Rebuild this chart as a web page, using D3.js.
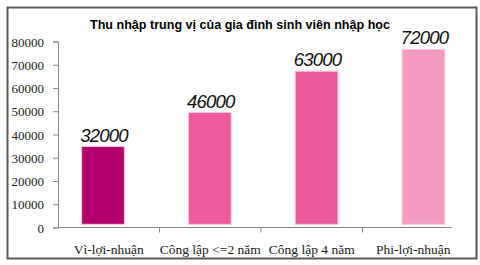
<!DOCTYPE html>
<html>
<head>
<meta charset="utf-8">
<script src="https://cdn.jsdelivr.net/npm/d3@7"></script>
<style>
  body { margin: 0; background: #fff; }
  .axis text { font-family: "Liberation Serif", "DejaVu Serif", serif; fill: #222; }
  .axis path, .axis line { stroke: #8a8a8a; }
</style>
</head>
<body>
<div id="chart"></div>
<script>
// data
let categories = ["Vì-lợi-nhuận", "Công lập <=2 năm", "Công lập 4 năm", "Phi-lợi-nhuận"];
let values = [32000, 46000, 63000, 72000];
let valueLabels = ["32000", "46000", "63000", "72000"];
let barColors = ["#b3006a", "#ef5a9f", "#ec589c", "#f39bc2"];
let yTicks = [0, 10000, 20000, 30000, 40000, 50000, 60000, 70000, 80000];
let title = "Thu nhập trung vị của gia đình sinh viên nhập học";

let width = 480, height = 265;

let svg = d3.select("#chart").append("svg")
    .attr("width", width)
    .attr("height", height);

// outer frame
svg.append("rect")
    .attr("x", 7.5).attr("y", 7.5)
    .attr("width", 469).attr("height", 251)
    .attr("fill", "#fff")
    .attr("stroke", "#5a5a5a")
    .attr("stroke-width", 2);

svg.append("text")
    .attr("x", 240).attr("y", 28.5)
    .attr("text-anchor", "middle")
    .attr("textLength", 300)
    .attr("lengthAdjust", "spacingAndGlyphs")
    .style("font-family", "'Liberation Sans', Arial, sans-serif")
    .style("font-weight", "bold")
    .style("font-size", "13px")
    .text(title);

// scales
let x = d3.scaleBand()
    .domain(categories)
    .range([58, 464]);

let y = d3.scaleLinear()
    .domain([0, 80000])
    .range([227.5, 41.5]);

// the bars in the source sit a little off the axis grid
let xBar = d3.scaleBand()
    .domain(categories)
    .range([49.6, 476.8])
    .paddingInner(0.6)
    .paddingOuter(0.3);

let yBar = d3.scaleLinear()
    .domain([0, 80000])
    .range([224.3, 29.9]);

// axes
let yAxis = d3.axisLeft(y)
    .tickValues(yTicks)
    .tickFormat(d3.format("d"))
    .tickSize(5)
    .tickSizeOuter(5)
    .tickPadding(9);

let gy = svg.append("g")
    .attr("class", "axis")
    .attr("transform", "translate(58,0)")
    .call(yAxis);
gy.selectAll("text").style("font-size", "13px").attr("dy", "0.35em");

let xAxis = d3.axisBottom(x)
    .tickSize(5)
    .tickSizeOuter(0)
    .tickPadding(12);

let gx = svg.append("g")
    .attr("class", "axis")
    .attr("transform", "translate(0," + y(0) + ")")
    .call(xAxis);
gx.selectAll("text").style("font-size", "13.5px");
// ticks sit between categories, not under them
gx.selectAll(".tick line")
    .attr("x1", x.bandwidth() / 2)
    .attr("x2", x.bandwidth() / 2)
    .style("display", (d, i) => i === categories.length - 1 ? "none" : null);
gx.select(".domain").attr("d", "M58,0H452");

// bars
svg.selectAll("rect.bar")
    .data(values)
    .enter()
    .append("rect")
    .attr("class", "bar")
    .attr("x", (d, i) => xBar(categories[i]))
    .attr("y", d => yBar(d))
    .attr("width", xBar.bandwidth())
    .attr("height", d => yBar(0) - yBar(d))
    .attr("fill", (d, i) => barColors[i])
    .attr("stroke", "#f8c6dc")
    .attr("stroke-width", 1);

svg.selectAll("text.value")
    .data(values)
    .enter()
    .append("text")
    .attr("class", "value")
    .attr("x", (d, i) => xBar(categories[i]) + xBar.bandwidth() / 2 + 1)
    .attr("y", d => yBar(d) - 5)
    .attr("text-anchor", "middle")
    .style("font-family", "'Liberation Sans', Arial, sans-serif")
    .style("font-style", "italic")
    .style("font-size", "18.5px")
    .style("letter-spacing", "-0.8px")
    .style("fill", "#111")
    .text((d, i) => valueLabels[i]);
</script>
</body>
</html>
